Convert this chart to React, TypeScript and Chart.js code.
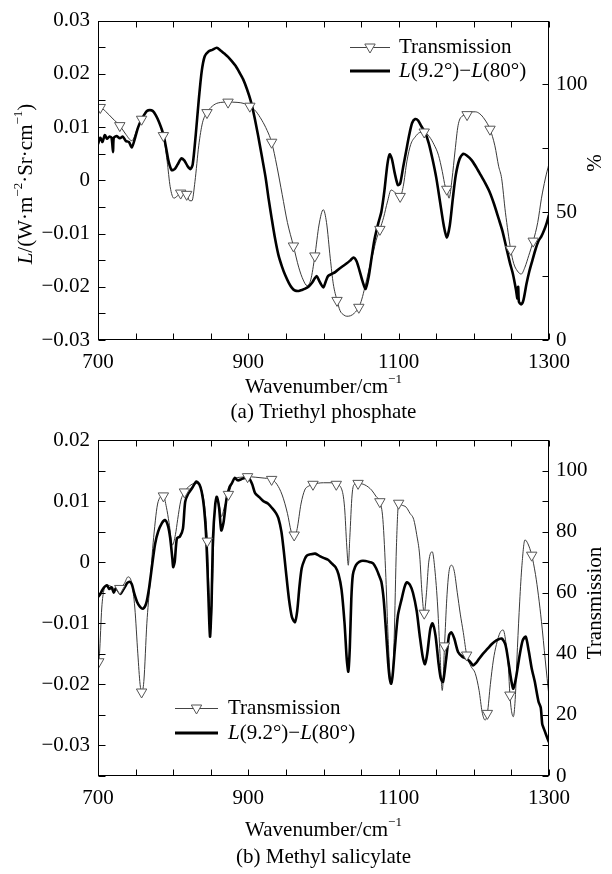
import React, { useEffect, useRef } from 'react';
import { Chart, registerables } from 'chart.js';

Chart.register(...registerables);

const FONT = '"Liberation Serif", "Times New Roman", serif';
const FS = 21;

// ---------- (a) Triethyl phosphate ----------
const aRadianceWn = [700, 703, 706, 709, 712, 715, 718, 720, 721, 725, 729, 733, 737, 741, 745, 749, 753, 757, 761, 765, 769, 773, 777, 781, 785, 788, 791, 794, 798, 802, 806, 811, 815, 819, 823, 826, 830, 834, 838, 842, 847, 852, 858, 863, 868, 873, 878, 883, 888, 893, 898, 903, 908, 913, 918, 923, 927, 931, 935, 940, 945, 949, 954, 958, 962, 967, 971, 975, 980, 985, 988, 991, 994, 997, 1000, 1003, 1006, 1011, 1016, 1021, 1026, 1031, 1036, 1040, 1044, 1048, 1052, 1056, 1060, 1064, 1068, 1073, 1077, 1081, 1085, 1088, 1091, 1095, 1099, 1102, 1106, 1110, 1114, 1118, 1122, 1126, 1130, 1135, 1140, 1145, 1150, 1155, 1160, 1164, 1168, 1172, 1176, 1181, 1186, 1191, 1197, 1203, 1209, 1215, 1221, 1227, 1233, 1238, 1243, 1248, 1252, 1256, 1258, 1259, 1260, 1263, 1266, 1270, 1274, 1278, 1282, 1286, 1290, 1294, 1297, 1300];
const aRadiance = [0.0068, 0.0080, 0.0072, 0.0085, 0.0078, 0.0082, 0.0080, 0.0053, 0.0080, 0.0083, 0.0079, 0.0082, 0.0074, 0.0072, 0.0062, 0.0078, 0.0098, 0.0112, 0.0122, 0.0130, 0.0132, 0.0130, 0.0122, 0.0110, 0.0095, 0.0080, 0.0058, 0.0035, 0.0019, 0.0021, 0.0030, 0.0041, 0.0037, 0.0027, 0.0021, 0.0030, 0.0085, 0.0150, 0.0205, 0.0233, 0.0242, 0.0245, 0.0249, 0.0244, 0.0238, 0.0232, 0.0224, 0.0215, 0.0203, 0.0190, 0.0172, 0.0150, 0.0120, 0.0084, 0.0045, 0.0005, -0.0035, -0.0071, -0.0105, -0.0140, -0.0163, -0.0178, -0.0193, -0.0202, -0.0207, -0.0208, -0.0206, -0.0204, -0.0200, -0.0192, -0.0185, -0.0180, -0.0188, -0.0196, -0.0201, -0.0190, -0.0180, -0.0176, -0.0172, -0.0166, -0.0161, -0.0156, -0.0150, -0.0145, -0.0152, -0.0170, -0.0190, -0.0204, -0.0182, -0.0145, -0.0110, -0.0080, -0.0059, -0.0020, 0.0030, 0.0049, 0.0040, 0.0012, -0.0009, -0.0006, 0.0025, 0.0055, 0.0085, 0.0108, 0.0115, 0.0112, 0.0102, 0.0090, 0.0070, 0.0040, 0.0005, -0.0040, -0.0085, -0.0108, -0.0085, -0.0035, 0.0010, 0.0040, 0.0050, 0.0046, 0.0038, 0.0025, 0.0010, -0.0005, -0.0022, -0.0045, -0.0072, -0.0095, -0.0125, -0.0155, -0.0176, -0.0205, -0.0222, -0.0200, -0.0228, -0.0233, -0.0225, -0.0195, -0.0170, -0.0150, -0.0130, -0.0114, -0.0105, -0.0092, -0.0080, -0.0065];
const aTransWn = [700, 703, 710, 720, 729, 737, 745, 752, 758, 764, 769, 774, 780, 787, 792, 796, 801, 806, 810, 815, 818, 822, 825, 829, 834, 839, 845, 852, 860, 873, 885, 895, 902, 910, 918, 925, 931, 938, 945, 952, 960, 967, 973, 978, 983, 988.5, 994, 999.7, 1004, 1009, 1013, 1018, 1022, 1027, 1031, 1036, 1041, 1047, 1051, 1055, 1060, 1066, 1070, 1075, 1080, 1085, 1090, 1096, 1102, 1106, 1111, 1116, 1122, 1128, 1134, 1141, 1147, 1153, 1158, 1162, 1164, 1167, 1171, 1175, 1179, 1184, 1191, 1196, 1202, 1208, 1214, 1221.5, 1228, 1233, 1237, 1242, 1249, 1253, 1258, 1263, 1268, 1273, 1279, 1285, 1290, 1295, 1300];
const aTrans = [90.5, 91, 89.5, 86.5, 83.9, 80.5, 78, 82.5, 86.4, 89, 89.7, 89, 86, 80, 70, 60, 55.5, 56.5, 57.5, 57.5, 57, 54.5, 54.5, 62, 76, 85, 89, 91.5, 92.8, 93.1, 93, 92.5, 91.5, 89.5, 86, 82, 77.4, 68, 57, 46, 36.8, 28.5, 23.5, 21.3, 23.5, 32.9, 45, 51, 46, 32, 22, 15.5, 11.5, 9.8, 9.3, 9.5, 10.5, 12.8, 16, 20.6, 27, 34, 39, 43.3, 48, 54, 58.7, 57.5, 56.2, 60, 70, 76.5, 79.5, 81.2, 81.4, 79.5, 76.5, 72.3, 66, 60, 59, 55.5, 63, 74, 83.9, 87.5, 88.2, 89.3, 89.3, 88.5, 86.5, 82.5, 76, 68, 63.2, 50, 35.5, 30, 27, 25.8, 28.5, 33, 38.7, 46, 55.5, 63, 69];
const aMarkerWn = [703, 729, 758, 787, 810, 818, 845, 873, 902, 931, 960, 988.5, 1018, 1047, 1075, 1102, 1134, 1164, 1191, 1221.5, 1249, 1279];
const aMarkerTrans = [91, 83.9, 86.4, 80, 57.5, 57, 89, 93.1, 91.5, 77.4, 36.8, 32.9, 15.5, 12.8, 43.3, 56.2, 81.4, 59, 88.2, 82.5, 35.5, 38.7];

// ---------- (b) Methyl salicylate ----------
const bRadianceWn = [700, 703, 706, 709, 712, 715, 718, 721, 724, 727, 730, 733, 736, 739, 742, 745, 748, 752, 756, 760, 764, 768, 772, 776, 780, 785, 789, 793, 796, 799, 800, 802, 805, 809, 813, 816, 820, 825, 831, 835, 838, 841, 844, 847, 849, 851, 853, 856, 858, 861, 864, 867, 871, 875, 878, 882, 886, 891, 895, 900, 905, 909, 915, 920, 926, 932, 937, 940, 944, 947, 950, 954, 958, 962, 965, 968, 971, 975, 978, 983, 989, 995, 1000, 1006, 1011, 1016, 1020, 1024, 1028, 1031, 1033, 1035, 1037, 1039, 1042, 1045, 1050, 1056, 1062, 1066, 1070, 1074, 1077, 1080, 1083, 1086, 1088, 1090, 1092, 1095, 1099, 1104, 1108, 1111, 1115, 1119, 1124, 1128, 1132, 1135, 1138, 1142, 1145, 1149, 1153, 1156, 1159, 1163, 1167, 1170, 1174, 1179, 1185, 1190, 1195, 1199, 1203, 1207, 1212, 1218, 1224, 1230, 1237, 1242, 1246, 1250, 1252.5, 1256, 1261, 1265, 1269, 1273, 1277, 1281, 1286, 1289, 1291, 1293, 1296, 1300];
const bRadiance = [-0.0057, -0.0052, -0.0045, -0.0040, -0.0038, -0.0044, -0.0041, -0.0050, -0.0042, -0.0047, -0.0052, -0.0046, -0.0040, -0.0034, -0.0032, -0.0036, -0.0050, -0.0065, -0.0073, -0.0076, -0.0068, -0.0042, -0.0005, 0.0030, 0.0050, 0.0064, 0.0069, 0.0060, 0.0040, 0.0005, -0.0008, 0.0000, 0.0039, 0.0042, 0.0055, 0.0099, 0.0112, 0.0121, 0.0132, 0.0127, 0.0115, 0.0090, 0.0040, -0.0060, -0.0122, -0.0070, 0.0039, 0.0095, 0.0107, 0.0090, 0.0052, 0.0065, 0.0104, 0.0123, 0.0129, 0.0138, 0.0134, 0.0136, 0.0138, 0.0139, 0.0128, 0.0113, 0.0106, 0.0100, 0.0096, 0.0088, 0.0080, 0.0072, 0.0050, 0.0020, -0.0015, -0.0060, -0.0090, -0.0098, -0.0080, -0.0040, -0.0010, 0.0005, 0.0011, 0.0013, 0.0014, 0.0010, 0.0007, 0.0004, -0.0002, -0.0008, -0.0020, -0.0045, -0.0100, -0.0160, -0.0179, -0.0140, -0.0060, -0.0021, -0.0008, -0.0002, 0.0002, 0.0002, 0.0000, -0.0002, -0.0010, -0.0022, -0.0032, -0.0060, -0.0110, -0.0165, -0.0190, -0.0199, -0.0185, -0.0140, -0.0087, -0.0060, -0.0040, -0.0033, -0.0037, -0.0050, -0.0080, -0.0120, -0.0155, -0.0167, -0.0150, -0.0110, -0.0100, -0.0120, -0.0165, -0.0190, -0.0196, -0.0160, -0.0120, -0.0115, -0.0125, -0.0147, -0.0155, -0.0158, -0.0163, -0.0169, -0.0165, -0.0158, -0.0150, -0.0142, -0.0134, -0.0128, -0.0125, -0.0135, -0.0163, -0.0195, -0.0207, -0.0190, -0.0152, -0.0128, -0.0122, -0.0145, -0.0174, -0.0195, -0.0228, -0.0238, -0.0265, -0.0272, -0.0282, -0.0295];
const bTransWn = [700, 702, 705, 708, 712, 718, 724, 729, 735, 740, 745, 749, 753, 756, 758, 761, 765, 769, 774, 780, 787, 791, 794.5, 799, 803, 806, 810, 815, 822, 829, 834, 838, 842, 845.4, 848, 850, 852, 855, 858, 861, 864.5, 868, 873.5, 878, 882, 890, 899, 910, 922, 931, 938, 945, 952, 957, 961, 965, 970, 975, 981, 986, 1000, 1010, 1017, 1024, 1028, 1031, 1033, 1035, 1038, 1041, 1046, 1055, 1064, 1070, 1075, 1079, 1083, 1086, 1089, 1091, 1094, 1097, 1100, 1104, 1110, 1115, 1120, 1124, 1128, 1131, 1134, 1137, 1140, 1144.7, 1148, 1152, 1155, 1158, 1161, 1164, 1167, 1170.5, 1174, 1178, 1182, 1186, 1190.5, 1196, 1202, 1207, 1211, 1215, 1218, 1222, 1226, 1230, 1235, 1239, 1243, 1246, 1248, 1250, 1252.5, 1255, 1258, 1261, 1264, 1268, 1272, 1277, 1282, 1286, 1290, 1295, 1300];
const bTrans = [35, 40, 55, 61, 62.5, 62, 61, 61.4, 63, 65.2, 63, 55, 40, 30, 27.5, 31, 50, 62.5, 78, 89.8, 91.7, 88, 83, 75.6, 79, 84, 90, 93, 95, 95.8, 95.5, 93.6, 88, 76.9, 58, 48, 60, 85, 91, 89, 84.9, 88, 92.2, 95.5, 97.4, 97.8, 98, 97.8, 97.5, 97.1, 95.5, 92, 86, 80, 78, 81, 89, 93.6, 95, 95.5, 96, 96, 95.5, 94, 88, 75, 69, 78, 92, 95.5, 95.8, 95.3, 93.6, 91.5, 89.8, 84, 65, 45, 32, 30.5, 45, 75, 89.3, 88.7, 88, 86, 84, 79, 72, 60, 53.3, 60, 70, 73.4, 68, 55, 40, 28, 42.6, 58, 67, 69, 67, 60, 53, 47, 39.6, 36, 33.5, 28, 21, 18.3, 20.5, 30, 38, 43, 47, 47.8, 43, 35.4, 26.5, 21.5, 19.4, 25, 42, 57, 69, 77.3, 76, 72.3, 66, 59, 50.5, 38, 26];
const bMarkerWn = [701, 729, 758, 787, 815, 845.4, 873.5, 899, 931, 961, 986, 1017, 1046, 1075, 1100, 1134, 1161, 1190.5, 1218, 1248, 1277];
const bMarkerTrans = [37.4, 61.4, 27.5, 91.7, 93, 76.9, 92.2, 98, 97.1, 78.9, 95.5, 95.5, 95.8, 89.8, 89.3, 53.3, 42.6, 39.6, 20.5, 26.5, 72.3];

const xLabelValues = [700, 900, 1100, 1300];

type Seg = { t: string; i?: boolean; s?: boolean };

function segFont(s: Seg, size: number) {
  const sz = s.s ? Math.round(size * 0.62) : size;
  return `${s.i ? 'italic ' : ''}${sz}px ${FONT}`;
}

function drawRich(ctx: CanvasRenderingContext2D, segs: Seg[], x: number, y: number, size: number, align: 'left' | 'center') {
  let total = 0;
  const widths = segs.map((s) => {
    ctx.font = segFont(s, size);
    const w = ctx.measureText(s.t).width;
    total += w;
    return w;
  });
  let cx = align === 'center' ? x - total / 2 : x;
  ctx.textAlign = 'left';
  ctx.textBaseline = 'middle';
  ctx.fillStyle = '#000';
  segs.forEach((s, k) => {
    ctx.font = segFont(s, size);
    ctx.fillText(s.t, cx, s.s ? y - size * 0.36 : y);
    cx += widths[k];
  });
}

const TITLE_X: Seg[] = [{ t: 'Wavenumber/cm' }, { t: '\u22121', s: true }];
const LEG_L: Seg[] = [{ t: 'L', i: true }, { t: '(9.2\u00b0)\u2212' }, { t: 'L', i: true }, { t: '(80\u00b0)' }];
const TITLE_YA: Seg[] = [
  { t: 'L', i: true }, { t: '/(W\u00b7m' }, { t: '\u22122', s: true }, { t: '\u00b7Sr\u00b7cm' }, { t: '\u22121', s: true }, { t: ')' },
];

type PanelSpec = {
  height: number;
  plotTop: number;
  plotBottom: number;
  yMin: number; yMax: number;
  y2Max: number; y2Step: number; y2Every: number;
  radWn: number[]; rad: number[];
  trWn: number[]; tr: number[];
  mkWn: number[]; mk: number[];
  legend: { y1: number; y2: number; x1: number; x2: number; tx: number };
  leftTitle: Seg[] | null; leftTitleY: number;
  rightTitle: string; rightTitleY: number;
  xTitleY: number; caption: string; captionY: number;
};

const panelA: PanelSpec = {
  height: 430, plotTop: 17, plotBottom: 340,
  yMin: -0.03, yMax: 0.03,
  y2Max: 125, y2Step: 25, y2Every: 50,
  radWn: aRadianceWn, rad: aRadiance, trWn: aTransWn, tr: aTrans, mkWn: aMarkerWn, mk: aMarkerTrans,
  legend: { y1: 47, y2: 71, x1: 350, x2: 390, tx: 399 },
  leftTitle: TITLE_YA, leftTitleY: 184,
  rightTitle: '%', rightTitleY: 163,
  xTitleY: 387, caption: '(a) Triethyl phosphate', captionY: 412,
};

const B_TOP = 415;
const panelB: PanelSpec = {
  height: 874 - B_TOP, plotTop: 440 - B_TOP, plotBottom: 776 - B_TOP,
  yMin: -0.035, yMax: 0.02,
  y2Max: 110, y2Step: 10, y2Every: 20,
  radWn: bRadianceWn, rad: bRadiance, trWn: bTransWn, tr: bTrans, mkWn: bMarkerWn, mk: bMarkerTrans,
  legend: { y1: 708 - B_TOP, y2: 733 - B_TOP, x1: 175, x2: 218, tx: 228 },
  leftTitle: null, leftTitleY: 0,
  rightTitle: 'Transmission', rightTitleY: 603 - B_TOP,
  xTitleY: 830 - B_TOP, caption: '(b) Methyl salicylate', captionY: 857 - B_TOP,
};

function fmtLeft(v: number) {
  const r = Math.round(v * 1000);
  if (r % 10 !== 0) return '';
  if (r === 0) return '0';
  return (r / 1000).toFixed(2).replace('-', '\u2212');
}

function drawTriangle(ctx: CanvasRenderingContext2D, x: number, y: number, r: number) {
  ctx.beginPath();
  ctx.moveTo(x, y + r);
  ctx.lineTo(x - r * 0.866, y - r * 0.5);
  ctx.lineTo(x + r * 0.866, y - r * 0.5);
  ctx.closePath();
  ctx.fillStyle = '#fff';
  ctx.fill();
  ctx.strokeStyle = '#555';
  ctx.lineWidth = 1;
  ctx.stroke();
}

function makeChart(canvas: HTMLCanvasElement, p: PanelSpec) {
  const W = 612;
  const decor = {
    id: 'decor',
    afterDatasetsDraw(chart: any) {
      const { ctx, chartArea: a, scales } = chart;
      ctx.save();
      ctx.strokeStyle = '#000';
      ctx.lineWidth = 1;
      const L = Math.round(a.left) + 0.5, R = Math.round(a.right) - 0.5;
      const T = Math.round(a.top) + 0.5, B = Math.round(a.bottom) - 0.5;
      ctx.strokeRect(L, T, R - L, B - T);
      ctx.beginPath();
      scales.x.ticks.forEach((t: any) => {
        const px = Math.round(scales.x.getPixelForValue(t.value)) + 0.5;
        ctx.moveTo(px, B); ctx.lineTo(px, B - 6);
        ctx.moveTo(px, T); ctx.lineTo(px, T + 6);
      });
      scales.y.ticks.forEach((t: any) => {
        const py = Math.round(scales.y.getPixelForValue(t.value)) + 0.5;
        ctx.moveTo(L, py); ctx.lineTo(L + 7, py);
      });
      scales.y2.ticks.forEach((t: any) => {
        const py = Math.round(scales.y2.getPixelForValue(t.value)) + 0.5;
        ctx.moveTo(R, py); ctx.lineTo(R - 6, py);
      });
      ctx.stroke();
      ctx.restore();
    },
    afterDraw(chart: any) {
      const { ctx, chartArea: a } = chart;
      ctx.save();
      const lg = p.legend;
      ctx.strokeStyle = '#444';
      ctx.lineWidth = 1;
      ctx.beginPath();
      ctx.moveTo(lg.x1, lg.y1 + 0.5); ctx.lineTo(lg.x2, lg.y1 + 0.5);
      ctx.stroke();
      drawTriangle(ctx, (lg.x1 + lg.x2) / 2, lg.y1, 6);
      drawRich(ctx, [{ t: 'Transmission' }], lg.tx, lg.y1, FS, 'left');
      ctx.strokeStyle = '#000';
      ctx.lineWidth = 3;
      ctx.beginPath();
      ctx.moveTo(lg.x1, lg.y2); ctx.lineTo(lg.x2, lg.y2);
      ctx.stroke();
      drawRich(ctx, LEG_L, lg.tx, lg.y2, FS, 'left');
      const cx = (a.left + a.right) / 2;
      drawRich(ctx, TITLE_X, cx, p.xTitleY, FS, 'center');
      drawRich(ctx, [{ t: p.caption }], cx, p.captionY, FS, 'center');
      if (p.leftTitle) {
        ctx.save();
        ctx.translate(26, p.leftTitleY);
        ctx.rotate(-Math.PI / 2);
        drawRich(ctx, p.leftTitle, 0, 0, FS, 'center');
        ctx.restore();
      }
      ctx.save();
      ctx.translate(595, p.rightTitleY);
      ctx.rotate(-Math.PI / 2);
      drawRich(ctx, [{ t: p.rightTitle }], 0, 0, FS, 'center');
      ctx.restore();
      ctx.restore();
    },
  };

  const tickFont = { family: FONT, size: FS };
  return new Chart(canvas, {
    type: 'line',
    data: {
      datasets: [
        {
          label: 'Transmission markers',
          data: p.mkWn.map((x, k) => ({ x, y: p.mk[k] })),
          yAxisID: 'y2',
          showLine: false,
          pointStyle: 'triangle',
          rotation: 180,
          pointRadius: 6,
          pointBackgroundColor: '#fff',
          pointBorderColor: '#555',
          pointBorderWidth: 1,
          order: 0,
        },
        {
          label: 'L(9.2°)−L(80°)',
          data: p.radWn.map((x, k) => ({ x, y: p.rad[k] })),
          yAxisID: 'y',
          borderColor: '#000',
          borderWidth: 2.6,
          borderJoinStyle: 'round',
          pointRadius: 0,
          tension: 0.25,
          order: 1,
        },
        {
          label: 'Transmission',
          data: p.trWn.map((x, k) => ({ x, y: p.tr[k] })),
          yAxisID: 'y2',
          borderColor: '#3a3a3a',
          borderWidth: 1,
          pointRadius: 0,
          cubicInterpolationMode: 'monotone',
          order: 2,
        },
      ],
    } as any,
    options: {
      responsive: false,
      maintainAspectRatio: false,
      animation: false,
      devicePixelRatio: 1,
      events: [],
      layout: { padding: { top: p.plotTop, left: 0, right: 0, bottom: 0 } },
      plugins: { legend: { display: false }, tooltip: { enabled: false } },
      scales: {
        x: {
          type: 'linear',
          min: 700, max: 1300,
          grid: { display: false, drawTicks: false },
          border: { display: false },
          ticks: {
            stepSize: 50, autoSkip: false, maxRotation: 0, padding: 10,
            font: tickFont, color: '#000',
            callback: (v: any) => (xLabelValues.includes(Number(v)) ? String(v) : ''),
          },
          afterFit: (s: any) => { s.height = p.height - p.plotBottom; },
        },
        y: {
          type: 'linear', position: 'left',
          min: p.yMin, max: p.yMax,
          grid: { display: false, drawTicks: false },
          border: { display: false },
          ticks: { stepSize: 0.005, autoSkip: false, padding: 8, font: tickFont, color: '#000', callback: (v: any) => fmtLeft(Number(v)) },
          afterFit: (s: any) => { s.width = 98; },
        },
        y2: {
          type: 'linear', position: 'right',
          min: 0, max: p.y2Max,
          grid: { display: false, drawTicks: false },
          border: { display: false },
          ticks: {
            stepSize: p.y2Step, autoSkip: false, padding: 7, font: tickFont, color: '#000',
            callback: (v: any) => (Math.round(Number(v)) % p.y2Every === 0 ? String(Math.round(Number(v))) : ''),
          },
          afterFit: (s: any) => { s.width = W - 549; },
        },
      },
    } as any,
    plugins: [decor],
  });
}

function ChartPanel({ p, top }: { p: PanelSpec; top: number }) {
  const ref = useRef<HTMLCanvasElement | null>(null);
  useEffect(() => {
    if (!ref.current) return;
    const c = makeChart(ref.current, p);
    return () => c.destroy();
  }, [p]);
  return (
    <canvas
      ref={ref}
      width={612}
      height={p.height}
      style={{ position: 'absolute', left: 0, top, width: 612, height: p.height, display: 'block' }}
    />
  );
}

export default function App() {
  useEffect(() => {
    document.body.style.margin = '0';
    document.body.style.background = '#fff';
  }, []);
  return (
    <div style={{ position: 'absolute', left: 0, top: 0, width: 612, height: 874, background: '#fff', overflow: 'hidden' }}>
      <ChartPanel p={panelA} top={0} />
      <ChartPanel p={panelB} top={B_TOP} />
    </div>
  );
}
